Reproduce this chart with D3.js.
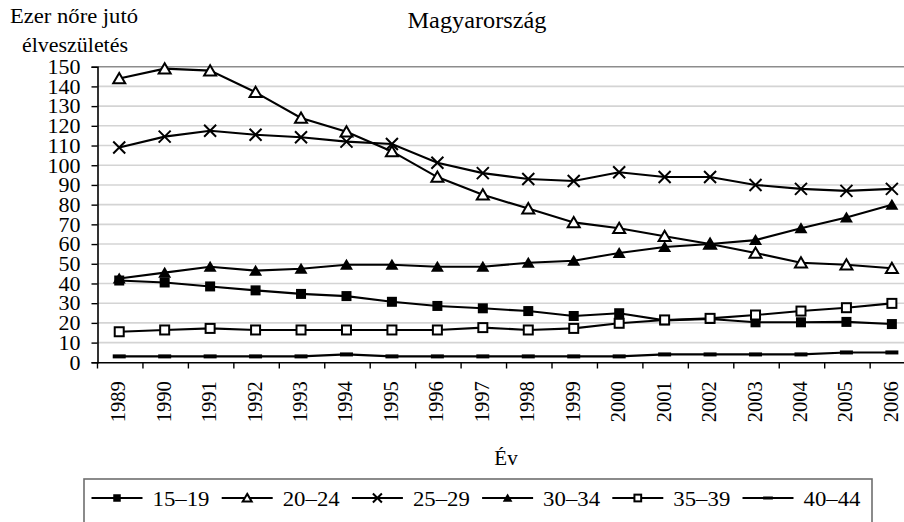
<!DOCTYPE html>
<html><head><meta charset="utf-8">
<script src="https://cdn.jsdelivr.net/npm/d3@7"></script>
<style>
body{margin:0;background:#fff;overflow:hidden}
svg text{font-family:'Liberation Serif','Times New Roman',Tinos,Times,'DejaVu Serif',serif !important;fill:#000}
</style>
</head><body>
<svg id="c" width="904" height="522"></svg>
<script>
const years = [1989,1990,1991,1992,1993,1994,1995,1996,1997,1998,1999,2000,2001,2002,2003,2004,2005,2006];
const s15_19 = [41.5,40.5,38.5,36.5,34.7,33.6,30.7,28.6,27.4,26,23.5,24.9,21.3,22,20.3,20.3,20.5,19.4];
const s20_24 = [144,149,148,137,124,117,107,94,85,78,71,68,64,60,55.5,50.5,49.5,47.7];
const s25_29 = [109,114.5,117.5,115.5,114.2,112,110.8,101.3,96,93,92,96.4,94,94,90,88,87,88];
const s30_34 = [42.5,45.5,48.5,46.5,47.5,49.5,49.5,48.5,48.5,50.5,51.5,55.5,58.5,60,62,68,73.5,80];
const s35_39 = [15.5,16.4,17.2,16.4,16.4,16.4,16.4,16.4,17.6,16.4,17.2,19.8,21.5,22.3,24,26,27.7,29.9];
const s40_44 = [3,3,3,3,3,4,3,3,3,3,3,3,4,4,4,4,5,5];
const seriesNames = ["15–19","20–24","25–29","30–34","35–39","40–44"];
const markerTypes = ["sqFill","triOpen","cross","triFill","sqOpen","dash"];
const yTicks = [0,10,20,30,40,50,60,70,80,90,100,110,120,130,140,150];
const titleText = "Magyarország";
const yLabel1 = "Ezer nőre jutó";
const yLabel2 = "élveszületés";
const xLabel = "Év";

const FONT = "'Liberation Serif','Times New Roman',Tinos,Times,'DejaVu Serif',serif";
const series = [s15_19,s20_24,s25_29,s30_34,s35_39,s40_44].map((v,i)=>({name:seriesNames[i],type:markerTypes[i],values:v}));

const svg = d3.select("#c").attr("font-family",FONT);
const x = d3.scaleBand().domain(years).range([97.5, 915.6]).paddingInner(0).paddingOuter(0);
const y = d3.scaleLinear().domain([0,150]).range([362.3, 66.7]);
const cx = d => x(d) + x.bandwidth()/2 - 1;

// gridlines
svg.append("g").selectAll("line").data(yTicks.filter(t=>t>0)).join("line")
  .attr("x1",97.5).attr("x2",904).attr("y1",d=>y(d)).attr("y2",d=>y(d))
  .attr("stroke",d=>d===150?"#8c8c8c":"#d4d4d4").attr("stroke-width",1.6);

// y axis
const yAxis = svg.append("g").attr("transform","translate(97.5,0)")
  .call(d3.axisLeft(y).tickValues(yTicks).tickSize(6).tickPadding(11).tickFormat(d3.format("d")));
yAxis.attr("font-family",FONT).attr("font-size",20);
yAxis.select(".domain").attr("stroke","#000").attr("stroke-width",1.6);
yAxis.selectAll(".tick line").attr("stroke","#000").attr("stroke-width",1.4);
yAxis.selectAll("text").attr("font-family",FONT).style("font-size","20px").attr("dy","0.34em").attr("fill","#000")
  .attr("textLength",d=>String(d).length*11).attr("lengthAdjust","spacingAndGlyphs");

// x axis
const xAxis = svg.append("g").attr("transform","translate(0,362.3)")
  .call(d3.axisBottom(x).tickSize(0).tickFormat(d3.format("d")));
xAxis.attr("font-family",FONT).attr("font-size",20);
xAxis.select(".domain").attr("stroke","#000").attr("stroke-width",1.6);
xAxis.selectAll(".tick line").remove();
svg.append("g").selectAll("line").data(years).join("line")
  .attr("x1",d=>x(d)).attr("x2",d=>x(d)).attr("y1",362.3).attr("y2",368.5)
  .attr("stroke","#000").attr("stroke-width",1.4);
xAxis.selectAll(".tick text")
  .attr("font-family",FONT).style("font-size","20px").attr("fill","#000")
  .attr("text-anchor","end")
  .attr("transform","translate(-2,19) rotate(-90)")
  .attr("dy","0.35em").attr("y",0).attr("x",0)
  .attr("textLength",41).attr("lengthAdjust","spacingAndGlyphs");

// lines
const line = d3.line().x((d,i)=>cx(years[i])).y(d=>y(d));
svg.append("g").selectAll("path").data(series).join("path")
  .attr("d",d=>line(d.values)).attr("fill","none").attr("stroke","#000").attr("stroke-width",2.1);

function drawMarker(g, type, s){
  if(type==="sqFill") g.append("rect").attr("x",-5*s).attr("y",-5*s).attr("width",10*s).attr("height",10*s).attr("fill","#000");
  else if(type==="sqOpen") g.append("rect").attr("x",-4.5*s).attr("y",-4.5*s).attr("width",9*s).attr("height",9*s).attr("fill","#fff").attr("stroke","#000").attr("stroke-width",2);
  else if(type==="triFill") g.append("path").attr("d",`M0,${-6*s}L${6.5*s},${5*s}L${-6.5*s},${5*s}Z`).attr("fill","#000");
  else if(type==="triOpen") g.append("path").attr("d",`M0,${-5.5*s}L${6*s},${4.8*s}L${-6*s},${4.8*s}Z`).attr("fill","#fff").attr("stroke","#000").attr("stroke-width",2);
  else if(type==="cross") g.append("path").attr("d",`M${-6*s},${-6*s}L${6*s},${6*s}M${6*s},${-6*s}L${-6*s},${6*s}`).attr("stroke","#000").attr("stroke-width",2);
  else if(type==="dash") g.append("rect").attr("x",-6.5*s).attr("y",-2*s).attr("width",13*s).attr("height",4*s).attr("fill","#000");
}
series.forEach(sr=>{
  sr.values.forEach((v,i)=>{
    const g = svg.append("g").attr("transform",`translate(${cx(years[i])},${y(v)})`);
    drawMarker(g, sr.type, 1);
  });
});

// title & labels
svg.append("text").attr("x",477).attr("y",28).attr("text-anchor","middle").attr("font-family",FONT).style("font-size","23px").attr("textLength",139).attr("lengthAdjust","spacingAndGlyphs").text(titleText);
svg.append("text").attr("x",10).attr("y",23).attr("font-family",FONT).style("font-size","20px").attr("textLength",128).attr("lengthAdjust","spacingAndGlyphs").text(yLabel1);
svg.append("text").attr("x",22).attr("y",52).attr("font-family",FONT).style("font-size","20px").attr("textLength",106).attr("lengthAdjust","spacingAndGlyphs").text(yLabel2);
svg.append("text").attr("x",506).attr("y",465).attr("text-anchor","middle").attr("font-family",FONT).style("font-size","21px").text(xLabel);

// legend
svg.append("rect").attr("x",84).attr("y",479).attr("width",788).attr("height",60)
  .attr("fill","none").attr("stroke","#6e6e6e").attr("stroke-width",1.6);
const lg = svg.append("g").selectAll("g").data(series).join("g")
  .attr("transform",(d,i)=>`translate(${91.5+i*130.2},498)`);
lg.append("line").attr("x1",0).attr("x2",51).attr("y1",0).attr("y2",0).attr("stroke","#000").attr("stroke-width",2.1);
lg.each(function(d){ const g=d3.select(this).append("g").attr("transform","translate(25.5,0)"); drawMarker(g,d.type,0.75); });
lg.append("text").attr("x",61).attr("y",7.5).attr("font-family",FONT).style("font-size","22px")
  .attr("textLength",57).attr("lengthAdjust","spacingAndGlyphs").text(d=>d.name);
</script>
</body></html>
